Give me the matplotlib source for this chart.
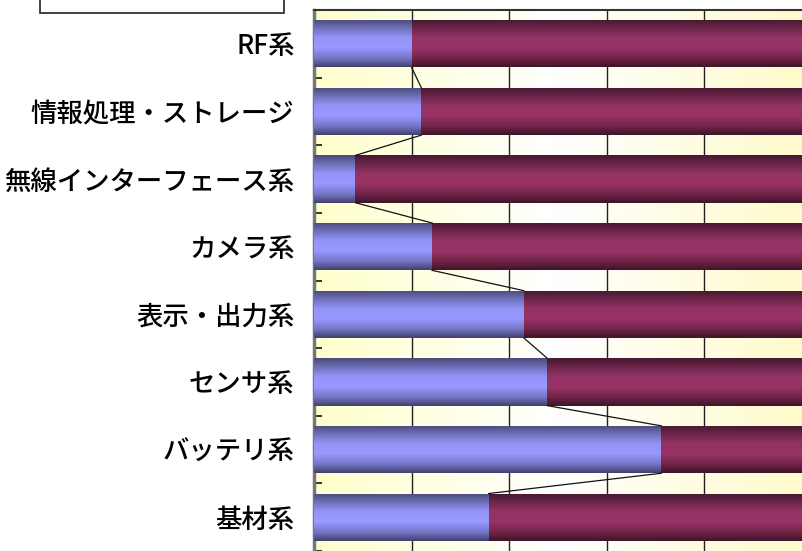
import numpy as np
import matplotlib
matplotlib.use("Agg")
import matplotlib.pyplot as plt
from matplotlib.colors import LinearSegmentedColormap
from matplotlib.patches import Rectangle

plt.rcParams['font.family'] = ['Noto Sans CJK JP', 'DejaVu Sans']

categories = ["RF系", "情報処理・ストレージ", "無線インターフェース系", "カメラ系",
              "表示・出力系", "センサ系", "バッテリ系", "基材系"]
share_a = [20.0, 22.0, 8.5, 24.2, 43.0, 47.8, 71.2, 35.8]
share_b = [100 - v for v in share_a]
xticks = [0, 20, 40, 60, 80, 100]

fig = plt.figure(figsize=(8.02, 5.51), dpi=100)
W, H = 802, 551
ax = fig.add_axes([314 / W, 0, 1 - 314 / W, (H - 10) / H])

n = len(categories)
ypos = np.arange(n)
bh = 0.70

# background gradient (yellow - white - yellow)
bg_cmap = LinearSegmentedColormap.from_list(
    "bg", [(0, "#FFFFCC"), (0.5, "#FFFFFF"), (1.0, "#FFFBCC")])
grad = np.linspace(0, 1, 256).reshape(1, -1)
ax.imshow(grad, cmap=bg_cmap, aspect="auto", extent=[0, 100, n - 0.5, -0.5],
          zorder=0, interpolation="bicubic")

for x in xticks[1:-1]:
    ax.axvline(x, color="#222222", lw=1.0, zorder=1)

bars_a = ax.barh(ypos, share_a, height=bh, color="#9999FF", zorder=2, lw=0)
bars_b = ax.barh(ypos, share_b, left=share_a, height=bh, color="#993366", zorder=2, lw=0)

cm_a = LinearSegmentedColormap.from_list(
    "a", [(0, "#4A4A7A"), (0.38, "#9494F8"), (0.6, "#9999FF"), (0.82, "#7474C4"), (1, "#40406A")])
cm_b = LinearSegmentedColormap.from_list(
    "b", [(0, "#451830"), (0.38, "#933264"), (0.6, "#993366"), (0.82, "#702448"), (1, "#3E1428")])
vgrad = np.linspace(0, 1, 256).reshape(-1, 1)
for bars, cm in ((bars_a, cm_a), (bars_b, cm_b)):
    for p in bars:
        x0, y0 = p.get_x(), p.get_y()
        w, h = p.get_width(), p.get_height()
        im = ax.imshow(vgrad, cmap=cm, aspect="auto",
                       extent=[x0, x0 + w, y0 + h, y0], zorder=3,
                       interpolation="bilinear")
        im.set_clip_path(p)

# series lines
for i in range(n - 1):
    ax.plot([share_a[i], share_a[i + 1]], [i + bh / 2, i + 1 - bh / 2],
            color="#111111", lw=0.9, zorder=4)

ax.set_xlim(0, 100)
ax.set_ylim(n - 0.5, -0.5)
ax.set_xticks([])
ax.set_yticks(ypos)
ax.set_yticklabels(categories, fontsize=19, fontweight="medium")
ax.tick_params(axis="y", which="major", length=0, pad=14)
ax.set_yticks(np.arange(n + 1) - 0.5, minor=True)
ax.tick_params(axis="y", which="minor", direction="in", length=6, width=1.2, color="#111111")

for s in ("right", "bottom"):
    ax.spines[s].set_visible(False)
ax.spines["top"].set_color("#333333")
ax.spines["top"].set_linewidth(1.5)
ax.spines["left"].set_color("#777777")
ax.spines["left"].set_linewidth(2.5)

# legend box (cut off at top)
fig.patches.append(Rectangle((39.5 / W, 1 - 13.3 / H), 244 / W, 0.1,
                             transform=fig.transFigure, facecolor="white",
                             edgecolor="#333333", lw=1.3))

fig.savefig("out.png", dpi=100)
